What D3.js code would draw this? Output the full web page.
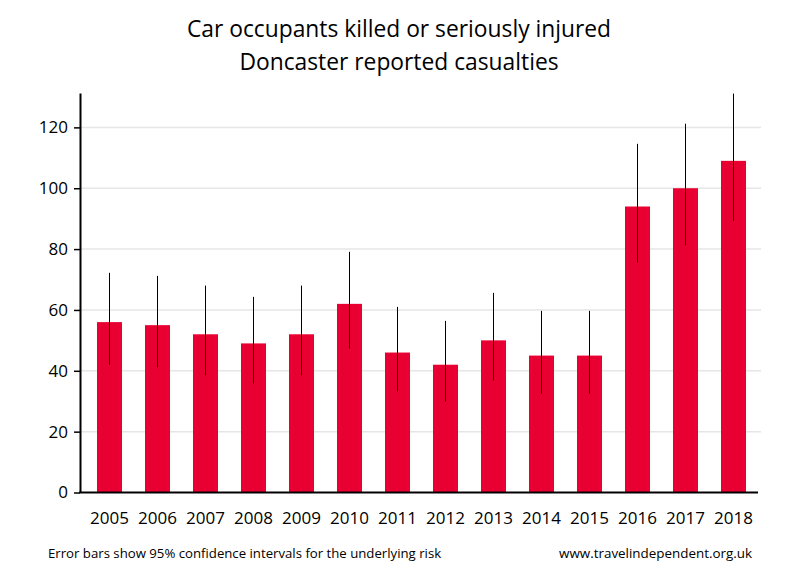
<!DOCTYPE html>
<html><head><meta charset="utf-8">
<script src="https://cdn.jsdelivr.net/npm/d3@7"></script>
<style>body{margin:0;background:#fff;} svg{display:block;font-family:"Open Sans",sans-serif;}</style>
</head><body>
<svg id="chart" width="800" height="580"></svg>
<script>
const years = ["2005","2006","2007","2008","2009","2010","2011","2012","2013","2014","2015","2016","2017","2018"];
const values = [56,55,52,49,52,62,46,42,50,45,45,94,100,109];
const lower = [42.0,41.1,38.5,35.8,38.5,47.3,33.2,29.9,36.8,32.5,32.5,75.6,81.2,89.2];
const upper = [72.2,71.2,68.0,64.3,68.0,79.1,61.0,56.4,65.6,59.7,59.7,114.6,121.2,131.1];
const yTicks = [0,20,40,60,80,100,120];
const titleLines = ["Car occupants killed or seriously injured","Doncaster reported casualties"];
const footLeft = "Error bars show 95% confidence intervals for the underlying risk";
const footRight = "www.travelindependent.org.uk";

const svg = d3.select("#chart");
const x = d3.scaleBand().domain(years).range([85.5,757.5]).paddingInner(23/48).paddingOuter(23/96);
const y = d3.scaleLinear().domain([0,131.3]).range([492.5,93]);

// gridlines
svg.append("g").selectAll("line").data(yTicks.filter(d=>d>0)).join("line")
  .attr("x1",81).attr("x2",761).attr("y1",d=>y(d)).attr("y2",d=>y(d))
  .attr("stroke","#e6e6e6").attr("stroke-width",1.5);

// bars
svg.append("g").selectAll("rect").data(years).join("rect")
  .attr("x",d=>x(d)).attr("width",x.bandwidth())
  .attr("y",(d,i)=>y(values[i])).attr("height",(d,i)=>y(0)-y(values[i]))
  .attr("fill","#e80032");

// error bars
svg.append("g").selectAll("line").data(years).join("line")
  .attr("x1",d=>x(d)+x.bandwidth()/2).attr("x2",d=>x(d)+x.bandwidth()/2)
  .attr("y1",(d,i)=>y(upper[i])).attr("y2",(d,i)=>y(lower[i]))
  .attr("stroke","#000").attr("stroke-width",1);

// y axis
const yAxis = d3.axisLeft(y).tickValues(yTicks).tickSize(6).tickPadding(6).tickSizeOuter(0);
const ga = svg.append("g").attr("transform","translate(80,0)").call(yAxis);
ga.select(".domain").attr("stroke","#000").attr("stroke-width",2);
ga.selectAll(".tick line").attr("stroke","#000").attr("stroke-width",1.5);
ga.selectAll(".tick text").attr("font-size",17).attr("font-family","Open Sans, sans-serif").attr("fill","#000");

// x axis
const xAxis = d3.axisBottom(x).tickSize(0).tickPadding(19);
const gx = svg.append("g").attr("transform","translate(0,"+y(0)+")").call(xAxis);
gx.select(".domain").remove();
gx.append("line").attr("x1",79).attr("x2",758).attr("y1",0).attr("y2",0).attr("stroke","#000").attr("stroke-width",2);
gx.selectAll(".tick text").attr("font-size",17).attr("font-family","Open Sans, sans-serif").attr("fill","#000");

// title
svg.append("g").selectAll("text").data(titleLines).join("text")
  .attr("x",399).attr("y",(d,i)=>37+i*33).attr("text-anchor","middle")
  .attr("font-size",22.8).attr("fill","#000").text(d=>d);

// footer
svg.append("text").attr("x",48).attr("y",558).attr("font-size",13.2).attr("fill","#000").text(footLeft);
svg.append("text").attr("x",752).attr("y",558).attr("text-anchor","end").attr("font-size",13.4).attr("fill","#000").text(footRight);
</script>
</body></html>
